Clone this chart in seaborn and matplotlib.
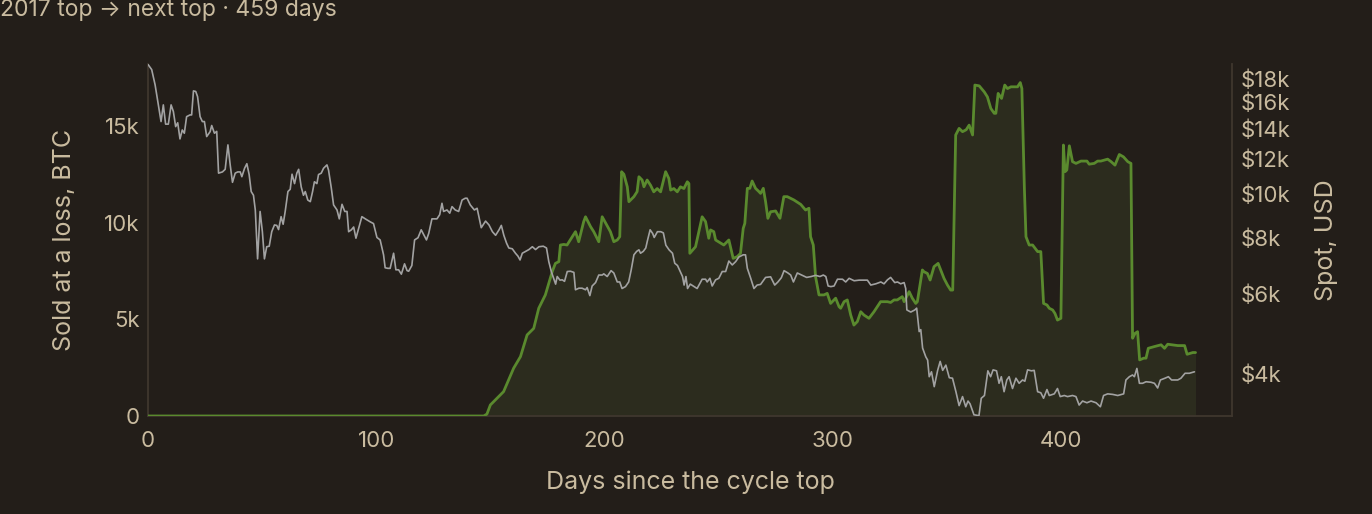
import matplotlib
matplotlib.use("Agg")
import matplotlib.pyplot as plt
import pandas as pd
import seaborn as sns
from matplotlib.ticker import FixedLocator, FuncFormatter, NullLocator

# BTC sold at a loss, by days since the 2017 top
loss_days = [0, 147.1, 148.5, 150, 152.9, 155.8, 160.2, 163.2, 166.1, 169, 171.2, 174.1,
             177.1, 178.5, 180, 180.7, 182.2, 183.6, 187.3, 188.7, 190.9, 191.7, 193.9,
             195.3, 197.5, 199, 200.4, 202.6, 204.1, 205.6, 206.7, 207.5, 208.5, 210,
             210.7, 212.9, 214.3, 215.1, 216.5, 217.3, 218.7, 220.2, 221.6, 223.1, 224.6,
             226.8, 228.2, 229, 230.4, 231.9, 233.3, 234.8, 236.3, 237, 237.4, 239.9,
             242.8, 244.3, 245.7, 246.5, 247.9, 248.7, 252.3, 254.5, 256.4, 258.2, 259.6,
             260.8, 261.5, 262.6, 263.7, 264.7, 266.2, 267.7, 268.4, 269.6, 270.6, 271.6,
             272.8, 275, 276.9, 278.6, 280.1, 283, 286, 288.1, 289.6, 290.3, 291.5, 292.5,
             294, 296.2, 297.6, 299.1, 301.3, 302.8, 303.5, 305, 306.4, 307.9, 309.3,
             310.8, 312.3, 313.7, 315.9, 318.1, 321, 324, 325.4, 326.9, 328.3, 330.5,
             331.3, 333.5, 334.9, 336.4, 337.1, 339.3, 340, 341.5, 342.7, 344.4, 346.2,
             348.8, 350.3, 351.7, 352.6, 353.9, 355.4, 356.9, 358.5, 359.8, 361.3, 362.3,
             364.2, 366.4, 367.8, 369.3, 370.8, 371.5, 372.5, 374, 375.4, 376.6, 378.1,
             381, 382.2, 382.9, 384, 384.7, 386.1, 387.6, 389.8, 391.2, 392.4, 393.9,
             394.9, 396.4, 397.4, 398.5, 400, 401.1, 401.8, 402.6, 403.7, 405.1, 406.6,
             408.8, 411.4, 412.4, 414.6, 416.1, 417.5, 420.5, 422, 423.7, 425.6, 427.4,
             429.3, 430.7, 431.4, 432.5, 433.6, 434.5, 436.3, 437.3, 438.3, 441, 443.9,
             445.4, 446.8, 451.2, 454.2, 455.3, 457.8, 459]
loss_btc = [0, 0, 100, 570, 915, 1260, 2470, 3070, 4190, 4530, 5570, 6260,
            7460, 7890, 7980, 8840, 8870, 8840, 9530, 9010, 10050, 10300, 9790,
            9530, 9010, 10300, 10000, 9530, 9010, 9100, 9270, 12630, 12500, 11850,
            11080, 11340, 11600, 12370, 12200, 11850, 12200, 11930, 11590, 11760, 11590,
            12630, 12280, 11680, 11760, 11590, 11850, 11760, 12110, 12020, 8410, 8750,
            10300, 10050, 9190, 9620, 9530, 9100, 8840, 9100, 8150, 8240, 8410,
            9700, 9960, 11770, 11770, 12150, 11770, 11600, 11510, 11770, 11080, 10220,
            10560, 10600, 10220, 11340, 11340, 11170, 10940, 10650, 10740, 9270, 8840, 7200,
            6260, 6260, 6340, 5820, 6090, 5650, 5570, 5910, 6000, 5220, 4700,
            4880, 5390, 5220, 5050, 5390, 5910, 5910, 5870, 6000, 6000, 6170,
            5910, 6430, 6090, 5820, 5910, 7550, 7460, 7370, 7030, 7720, 7890,
            7110, 6770, 6510, 6510, 14530, 14870, 14700, 14800, 15040, 14530, 17110,
            17070, 16760, 16500, 15900, 15650, 15650, 16680, 16420, 17110, 16930, 17020,
            17020, 17240, 16930, 11770, 9270, 8840, 8840, 8500, 8500, 5820, 5740,
            5570, 5480, 5300, 4960, 5050, 14010, 12630, 12720, 13970, 13150, 13060,
            13180, 13180, 13020, 13060, 13180, 13180, 13280, 13150, 12970, 13520, 13400,
            13150, 13060, 4020, 4270, 4360, 2900, 2990, 2990, 3500, 3590, 3680,
            3500, 3710, 3640, 3640, 3190, 3280, 3280]

# BTC spot price, USD
spot_days = [0, 1.6, 3.1, 4.5, 5.7, 6.7, 7.7, 8.9, 10.1, 11.1, 12.1, 13, 14, 15, 15.9,
             16.9, 18.4, 19.1, 19.9, 20.9, 21.7, 22.8, 23.8, 24.7, 25.7, 27.2, 27.9, 29.1,
             30.1, 30.9, 32.6, 33.8, 35, 36, 37, 38.2, 39.3, 40.4, 41.1, 42.3, 43.3, 44.3,
             45.2, 46.2, 47, 48, 49.1, 50.1, 51, 52, 53.1, 54.2, 55.4, 56.4, 57.2, 58.3,
             59.2, 60.1, 61.3, 62.3, 63.1, 64.2, 65.2, 66, 67.1, 68.1, 68.9, 70, 71.1,
             72.1, 72.9, 74, 74.7, 75.9, 76.9, 78.4, 79.1, 80.3, 81.3, 82.8, 83.8, 85,
             86.2, 87.2, 87.9, 89.1, 90.1, 91.1, 92.3, 93.7, 95.2, 97.3, 98.8, 100.3,
             101.7, 103.2, 103.9, 105.1, 106.1, 107.6, 108.6, 109.8, 111, 112.4, 113.5,
             114.2, 115.6, 116.8, 118.3, 119.7, 122, 123, 124.4, 126.6, 127.8, 128.8,
             129.5, 131, 132.2, 133.2, 134.6, 136.1, 137.6, 139, 139.8, 141.2, 143, 144.2,
             146, 147.9, 149.4, 150.9, 152.3, 153.8, 154.8, 155.9, 157.1, 158.1, 159.6,
             161, 162.1, 163, 164, 165.5, 166.9, 168.4, 169.8, 171.3, 173.2, 174.6, 175.6,
             176.7, 177.8, 178.6, 179.3, 180.5, 181.5, 182.5, 183.7, 185.1, 186.6, 187.3,
             188.8, 190.2, 191.7, 192.4, 193.6, 194.6, 196.1, 197.5, 199, 199.7, 201.2,
             202.9, 204.1, 205.6, 206.7, 207.7, 209.2, 210.6, 211.7, 212.9, 214.1, 215.1,
             215.8, 217, 218.1, 218.8, 220, 221.1, 221.8, 223.2, 224.7, 225.8, 226.9,
             228.3, 229.8, 230.8, 232, 233.2, 234.2, 234.9, 235.7, 236.4, 237.6, 240.6,
             242.8, 244.3, 245, 246.2, 247.2, 248.7, 250.1, 251.6, 253.1, 254.5, 256,
             257.5, 258.9, 260.8, 261.8, 262.6, 264, 265.5, 266.9, 268.4, 270.6, 272.8,
             274.6, 276, 277.5, 278.7, 280.4, 281.6, 282.8, 284.5, 286.7, 288.6, 290.6,
             292.5, 294.4, 295.9, 297, 298, 299.2, 300.6, 302.1, 304.3, 305.7, 307.2,
             309.4, 311.6, 315.2, 316.7, 318.9, 321.1, 322.5, 324, 325.4, 327.2, 328.4,
             329.8, 331.3, 332, 332.5, 334.2, 336, 336.8, 337.9, 338.6, 339.4, 340.8,
             341.6, 342.3, 343.3, 344.5, 346, 347.1, 348.2, 349.6, 351.1, 352.5, 354,
             355.4, 356.9, 358.3, 359.3, 360.2, 361.9, 364.1, 365.1, 366.5, 368, 369.2,
             370.3, 371.8, 372.9, 373.9, 375.1, 376.3, 377.3, 378.8, 380.3, 381.7, 383.2,
             384.2, 385.4, 387.1, 388.3, 389.8, 391.2, 392.4, 393.9, 394.9, 397.1, 398.5,
             399.7, 401.5, 402.9, 405.1, 406.6, 408, 409.5, 411.4, 413.2, 415.4, 417.3,
             418.7, 420.5, 422.7, 424.9, 427.5, 428.5, 430, 431.4, 432.2, 433.3, 434.4,
             435.8, 437.3, 439.5, 441, 442.4, 443.6, 445.6, 447.1, 448.5, 451.2, 452.6,
             454.4, 456.3, 458.5]
spot_usd = [19400, 18900, 17480, 15780, 14490, 15780, 14300, 14300, 15780, 15250, 14120,
            14400, 13260, 13880, 13650, 14860, 14990, 14990, 16950, 16900, 16460, 14860,
            14490, 14490, 13420, 13760, 14200, 13650, 13780, 11130, 11200, 11350, 12860,
            11610, 10620, 11130, 11200, 11200, 10930, 11410, 11680, 11050, 10130, 9940,
            9220, 7180, 9150, 8250, 7180, 7640, 7660, 8250, 8540, 8520, 8340, 8910, 8570,
            9150, 10130, 10250, 11070, 10550, 11130, 11350, 10380, 9940, 10130, 9700,
            9620, 10130, 10650, 10550, 11050, 11130, 11410, 11610, 11300, 10320, 9460,
            9220, 8810, 9490, 9150, 9150, 8250, 8330, 8450, 7980, 8400, 8910, 8810, 8680,
            8600, 8010, 7910, 7330, 6860, 6840, 6840, 7390, 6790, 6790, 6640, 7000, 6760,
            6740, 6940, 7910, 8000, 8330, 7910, 8180, 8810, 8810, 9000, 9540, 9150, 9220,
            9070, 9380, 9220, 9150, 9700, 9790, 9790, 9460, 9220, 9300, 8420, 8710, 8540,
            8250, 8100, 8330, 8520, 8100, 7780, 7590, 7560, 7390, 7280, 7140, 7390, 7460,
            7530, 7640, 7530, 7640, 7660, 7590, 7080, 6730, 6480, 6310, 6560, 6440, 6450,
            6400, 6730, 6740, 6700, 6130, 6180, 6180, 6130, 6200, 5950, 6250, 6360, 6610,
            6610, 6650, 6560, 6760, 6680, 6380, 6380, 6170, 6230, 6380, 6780, 7330, 7460,
            7520, 7390, 7460, 7590, 7870, 8330, 8180, 8010, 8250, 8250, 8200, 7700, 7520,
            7390, 7020, 6940, 6730, 6560, 6280, 6560, 6170, 6310, 6170, 6470, 6470, 6380,
            6500, 6250, 6450, 6500, 6730, 6730, 7100, 6960, 7080, 7250, 7330, 7330, 6840,
            6520, 6170, 6280, 6300, 6530, 6550, 6280, 6380, 6520, 6760, 6680, 6610, 6380,
            6680, 6600, 6530, 6560, 6600, 6560, 6610, 6560, 6250, 6230, 6250, 6470, 6470,
            6380, 6500, 6420, 6440, 6440, 6280, 6320, 6380, 6320, 6450, 6530, 6360, 6380,
            6320, 6360, 6170, 5530, 5470, 5530, 5580, 4950, 5000, 4550, 4350, 4280, 3930,
            4030, 3735, 4060, 4250, 4060, 4170, 3910, 3900, 3640, 3390, 3550, 3370, 3470,
            3420, 3235, 3220, 3520, 3570, 4050, 3930, 4070, 4050, 3800, 3930, 3640, 3865,
            3930, 3700, 3900, 3800, 3865, 3840, 4070, 4050, 4060, 3640, 3620, 3520, 3680,
            3570, 3600, 3700, 3550, 3570, 3550, 3570, 3550, 3400, 3470, 3440, 3470, 3440,
            3370, 3570, 3600, 3590, 3570, 3600, 3865, 3930, 3965, 3930, 4100, 3800, 3800,
            3830, 3820, 3800, 3710, 3865, 3900, 3930, 3865, 3865, 3900, 4000, 4000, 4030]

title = "2017 top \u2192 next top \u00b7 459 days"
x_ticks = [0, 100, 200, 300, 400]
loss_ticks = [0, 5000, 10000, 15000]
spot_ticks = [4000, 6000, 8000, 10000, 12000, 14000, 16000, 18000]

BG = "#231e19"
TEXT = "#c9bb9f"
SPINE = "#3f372e"
GREEN = "#5a8a2e"
FILL = "#2c2c1e"
GREY = "#a2a2a2"

sns.set_theme(style="dark", rc={
    "figure.facecolor": BG, "axes.facecolor": BG, "savefig.facecolor": BG,
    "axes.edgecolor": SPINE, "text.color": TEXT, "axes.labelcolor": TEXT,
    "xtick.color": TEXT, "ytick.color": TEXT, "axes.grid": False,
})
plt.rcParams["font.family"] = ["Inter", "DejaVu Sans"]

loss = pd.DataFrame({"day": loss_days, "btc": loss_btc})
spot = pd.DataFrame({"day": spot_days, "usd": spot_usd})

fig = plt.figure(figsize=(13.72, 5.14), dpi=100)
ax = fig.add_axes([0.1079, 0.1907, 0.7901, 0.6848])
ax2 = ax.twinx()

ax.fill_between(loss["day"], 0, loss["btc"], color=FILL, lw=0, zorder=1)
sns.lineplot(data=loss, x="day", y="btc", ax=ax, color=GREEN, lw=2.0, zorder=3)
sns.lineplot(data=spot, x="day", y="usd", ax=ax2, color=GREY, lw=1.2)

ax.set_xlim(0, 475)
ax.set_ylim(0, 18200)
ax2.set_yscale("log")
ax2.set_ylim(3215, 19450)

ax.xaxis.set_major_locator(FixedLocator(x_ticks))
ax.yaxis.set_major_locator(FixedLocator(loss_ticks))
ax.yaxis.set_major_formatter(FuncFormatter(lambda v, p: "0" if v == 0 else f"{v/1000:.0f}k"))
ax2.yaxis.set_major_locator(FixedLocator(spot_ticks))
ax2.yaxis.set_minor_locator(NullLocator())
ax2.yaxis.set_major_formatter(FuncFormatter(lambda v, p: f"${v/1000:.0f}k"))

for a in (ax, ax2):
    a.tick_params(length=0, labelsize=16, pad=6)
    for side, sp in a.spines.items():
        sp.set_visible(side in ("left", "bottom", "right"))
        sp.set_color(SPINE)
        sp.set_linewidth(1.3)
ax.tick_params(axis="x", pad=11)
ax2.spines["left"].set_visible(False)
ax2.spines["bottom"].set_visible(False)
ax.spines["right"].set_visible(False)

ax.set_xlabel("Days since the cycle top", fontsize=18, labelpad=14)
ax.set_ylabel("Sold at a loss, BTC", fontsize=18, labelpad=20)
ax2.set_ylabel("Spot, USD", fontsize=18, labelpad=18)

fig.text(0.0, 0.98, title, fontsize=16.5, ha="left", va="center", color=TEXT)

fig.savefig("out.png", dpi=100)
